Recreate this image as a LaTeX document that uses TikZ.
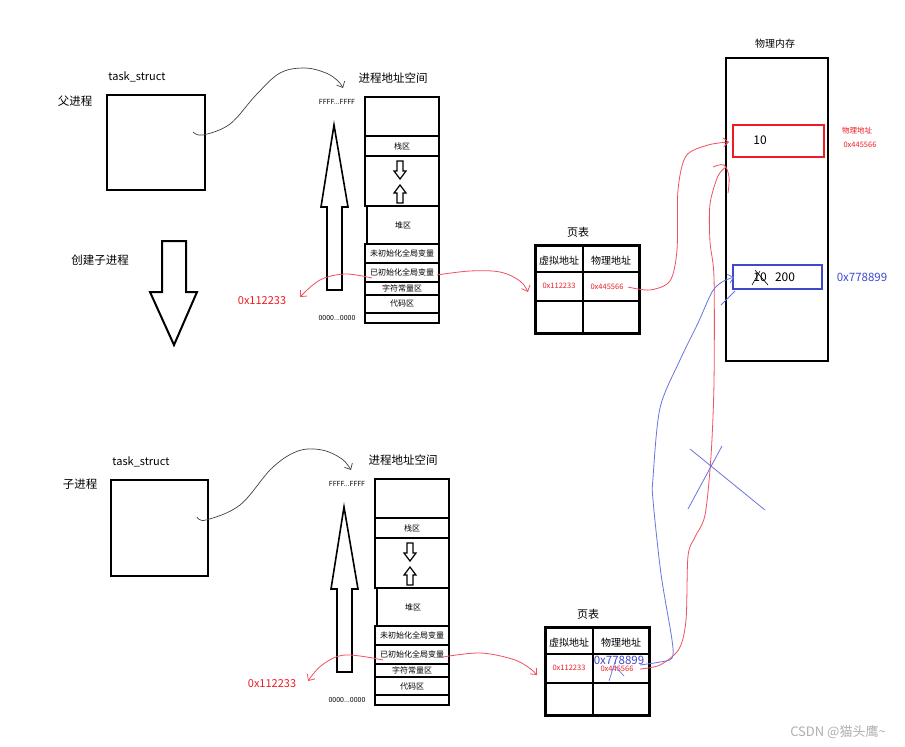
\documentclass[tikz,border=0pt]{standalone}
\usepackage{fontspec}
\newfontfamily\cjk{Noto Sans CJK SC}
\usetikzlibrary{arrows.meta}
\definecolor{pred}{RGB}{237,28,36}
\definecolor{lred}{RGB}{240,80,95}
\definecolor{pblue}{RGB}{63,72,204}
\definecolor{lblue}{RGB}{105,115,225}
\definecolor{wgray}{RGB}{175,175,175}
\tikzset{
  seg/.style={draw, line width=1.5pt},
  tiny/.style={font=\cjk\fontsize{8}{9}\selectfont},
  hdr/.style={font=\cjk\fontsize{10}{12}\selectfont},
  lbl/.style={font=\cjk\fontsize{11.5}{14}\selectfont},
  redcurve/.style={lred, line width=0.8pt},
  bluecurve/.style={lblue, line width=0.8pt},
  blackcurve/.style={black!75, line width=0.7pt},
  barb/.style={-{Straight Barb[length=5pt,width=9pt]}},
  addrspace/.pic={
    \node[lbl] at (28,-19) {进程地址空间};
    \node[font=\cjk\fontsize{7}{8}\selectfont] at (-28,5) {FFFF...FFFF};
    \node[font=\cjk\fontsize{7}{8}\selectfont] at (-28,221) {0000...0000};
    \draw[line width=1.6pt] (-38,193) -- (-38,110) -- (-44,110) -- (-31,28) -- (-17,110) -- (-23,110) -- (-23,193) -- cycle;
    \draw[seg] (0,0) rectangle (74,39);
    \draw[seg] (0,39) rectangle (74,59);
    \node[tiny] (-stack) at (37,49) {栈区};
    \draw[seg] (0,59) rectangle (74,109);
    \draw[line width=1.2pt] (32,64) -- (38,64) -- (38,74) -- (41,74) -- (35,82) -- (29,74) -- (32,74) -- cycle;
    \draw[line width=1.2pt] (35,88) -- (41,96) -- (38,96) -- (38,106) -- (32,106) -- (32,96) -- (29,96) -- cycle;
    \draw[line width=2pt] (2,109) rectangle (74,147);
    \node[tiny] (-heap) at (38,128) {堆区};
    \draw[line width=2pt] (0,147) rectangle (74,166);
    \node[tiny] (-bss) at (37,156.5) {未初始化全局变量};
    \draw[seg] (0,166) rectangle (74,185);
    \node[tiny] (-data) at (37,175.5) {已初始化全局变量};
    \draw[seg] (0,185) rectangle (74,198);
    \node[tiny] (-rodata) at (37,191.5) {字符常量区};
    \draw[seg] (0,198) rectangle (74,216);
    \node[tiny] (-text) at (37,207) {代码区};
    \draw[seg] (0,216) rectangle (74,226);
  },
  pagetable/.pic={
    \node[font=\cjk\fontsize{11}{13}\selectfont] at (43,-13) {页表};
    \draw[line width=3pt] (0,0) rectangle (104,88);
    \draw[line width=2pt] (48,0) -- (48,88) (0,27) -- (104,27) (0,56) -- (104,56);
    \node[hdr] at (24,16) {虚拟地址};
    \node[hdr] at (76,16) {物理地址};
    \node[font=\cjk\fontsize{7.5}{9}\selectfont, pred] (-v) at (24,41) {0x112233};
  }
}
\begin{document}
\begin{tikzpicture}[x=1pt,y=-1pt, every node/.style={inner sep=0pt}]
\useasboundingbox[fill=white] (0,0) rectangle (905,747);

% ---------- parent process ----------
\node[font=\cjk\fontsize{11}{13}\selectfont] (ts1) at (137,77) {task\_struct};
\node[lbl] (fp) at (75,101) {父进程};
\draw[line width=2pt] (107,95) rectangle (205,190);
\coordinate (ts1in) at (193,132);

\node[lbl] (mk) at (100,260) {创建子进程};
\draw[line width=2pt] (162,241) -- (186,241) -- (186,292) -- (197,292) -- (174,345) -- (150,292) -- (162,292) -- cycle;

\pic (A) at (365,97) {addrspace};
\draw[blackcurve, barb] plot[smooth, tension=0.6] coordinates {(ts1in) (203,135) (230,124) (256,95) (280,73) (305,68) (326,73) (338,81) (343,88)};

\pic (P) at (535,245) {pagetable};
\node[font=\cjk\fontsize{7.5}{9}\selectfont, pred] (p1) at (607,287) {0x445566};

\node[font=\cjk\fontsize{11}{13}\selectfont, pred] (r1) at (262,301) {0x112233};
\draw[redcurve, barb] plot[smooth, tension=0.6] coordinates {(372,278) (345,274) (320,280) (300,297)};
\draw[redcurve, barb] plot[smooth, tension=0.6] coordinates {(437,275) (470,271) (500,272) (520,281) (528,292)};

% ---------- physical memory ----------
\node[font=\cjk\fontsize{10}{12}\selectfont] (pm) at (775,44) {物理内存};
\draw[line width=2.5pt] (726,58) rectangle (828,361);
\draw[pred, line width=2.5pt] (733,125) rectangle (824,157);
\node[font=\cjk\fontsize{12}{14}\selectfont] (v10) at (760,140) {10};
\node[font=\cjk\fontsize{7.5}{9}\selectfont, pred] (pa1) at (857,131) {物理地址};
\node[font=\cjk\fontsize{7.5}{9}\selectfont, pred] (pa2) at (860,145) {0x445566};
\draw[pblue, line width=2.5pt] (733,265) rectangle (822,289);
\node[font=\cjk\fontsize{12}{14}\selectfont] (v10b) at (760,277) {10};
\node[font=\cjk\fontsize{12}{14}\selectfont] (v200) at (785,277) {200};
\draw[black, line width=0.6pt] (755,270) -- (768,285) (752,285) -- (760,271);
\node[font=\cjk\fontsize{11.5}{14}\selectfont, pblue] (pb) at (862,277) {0x778899};

% ---------- child process ----------
\node[font=\cjk\fontsize{11}{13}\selectfont] (ts2) at (141,462) {task\_struct};
\node[lbl] (cp) at (80,484) {子进程};
\draw[line width=2pt] (111,480) rectangle (208,576);
\coordinate (ts2in) at (197,517);

\pic (B) at (375,479) {addrspace};
\draw[blackcurve, barb] plot[smooth, tension=0.6] coordinates {(ts2in) (206,520) (240,505) (272,468) (298,451) (322,450) (342,459) (351,470)};

\pic (Q) at (545,627) {pagetable};
\node[font=\cjk\fontsize{11.5}{13}\selectfont, pblue] (q2) at (619,660) {0x778899};
\node[font=\cjk\fontsize{7.5}{9}\selectfont, pred] (q1) at (617,669) {0x445566};
\draw[lblue, line width=0.7pt] (615,662) -- (609,681) (615,666) -- (624,676);

\node[font=\cjk\fontsize{11}{13}\selectfont, pred] (r2) at (272,684) {0x112233};
\draw[redcurve, barb] plot[smooth, tension=0.6] coordinates {(383,660) (345,655) (322,665) (308,681)};
\draw[redcurve, barb] plot[smooth, tension=0.6] coordinates {(443,657) (480,653) (512,659) (528,667) (537,675)};

% ---------- page table -> physical memory ----------
\draw[redcurve, barb] plot[smooth, tension=0.5] coordinates {(628,287) (650,290) (670,281) (677,250) (678,190) (686,156) (708,145) (729,142)};
\draw[redcurve] plot[smooth, tension=0.5] coordinates {(640,669) (660,665) (679,649) (686,620) (688,556) (695,537) (705,515) (711,456) (714,382) (714,278) (710,242) (710,204) (718,176) (726,167)};
\draw[redcurve] plot[smooth, tension=0.6] coordinates {(713,167) (724,165) (729,177) (728,193)};
\draw[bluecurve, barb] plot[smooth, tension=0.5] coordinates {(640,665) (660,662) (672,658) (672,640) (661,574) (653,500) (653,478) (660,408) (680,360) (698,323) (712,292) (722,282) (734,277)};
\draw[bluecurve] (721,305) -- (735,291);
\draw[bluecurve] (690,449) -- (765,510) (722,446) -- (688,509);

% watermark
\node[font=\cjk\fontsize{13}{15}\selectfont, wgray] (wm) at (838,732) {CSDN @猫头鹰\char"007E};
\end{tikzpicture}
\end{document}
